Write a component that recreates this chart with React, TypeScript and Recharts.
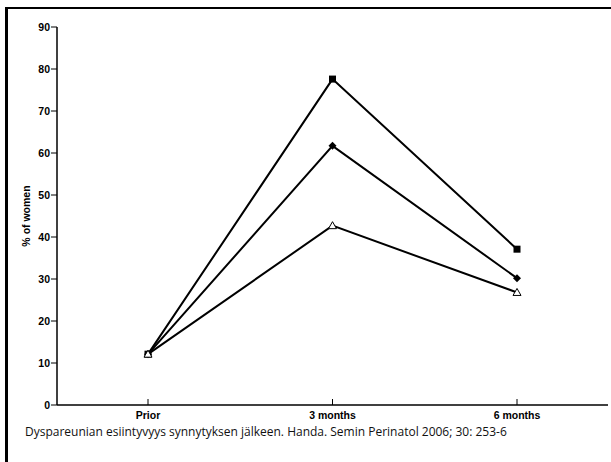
import React from 'react';
import { LineChart, Line, XAxis, YAxis } from 'recharts';

const categories = ['Prior', '3 months', '6 months'];
const seriesSquare = [12.1, 77.6, 37.1];
const seriesDiamond = [12.1, 61.7, 30.2];
const seriesTriangle = [12.1, 42.7, 26.8];
const yTicks = [0, 10, 20, 30, 40, 50, 60, 70, 80, 90];
const caption = 'Dyspareunian esiintyvyys synnytyksen jälkeen. Handa. Semin Perinatol 2006; 30: 253-6';
const yLabel = '% of women';

const data = categories.map((c, i) => ({
  name: c,
  sq: seriesSquare[i],
  di: seriesDiamond[i],
  tr: seriesTriangle[i],
}));

const FONT = 'Liberation Sans';

const SquareDot = (props: any) => {
  const { cx, cy, index } = props;
  return <rect key={`sq-${index}`} x={cx - 3.5} y={cy - 3.5} width={7} height={7} fill="#000" />;
};
const DiamondDot = (props: any) => {
  const { cx, cy, index } = props;
  return (
    <polygon
      key={`di-${index}`}
      points={`${cx},${cy - 4} ${cx + 4},${cy} ${cx},${cy + 4} ${cx - 4},${cy}`}
      fill="#000"
    />
  );
};
const TriangleDot = (props: any) => {
  const { cx, cy, index } = props;
  return (
    <polygon
      key={`tr-${index}`}
      points={`${cx},${cy - 4} ${cx + 4},${cy + 3} ${cx - 4},${cy + 3}`}
      fill="#fff"
      stroke="#000"
      strokeWidth={1}
    />
  );
};

const XTick = (props: any) => {
  const { x, y, payload } = props;
  const axisY = y - 7;
  return (
    <g>
      <line x1={x} x2={x} y1={axisY - 6} y2={axisY} stroke="#000" strokeWidth={1} />
      <text
        x={x}
        y={y}
        dy="0.71em"
        textAnchor="middle"
        style={{ fontFamily: FONT, fontWeight: 700, fontSize: '10.5px' }}
        fill="#000"
      >
        {payload.value}
      </text>
    </g>
  );
};

const YTick = (props: any) => {
  const { x, y, payload } = props;
  return (
    <text
      x={x}
      y={y}
      dy="0.355em"
      textAnchor="end"
      style={{ fontFamily: FONT, fontWeight: 700, fontSize: '10.5px' }}
      fill="#000"
    >
      {payload.value}
    </text>
  );
};

const YLabel = (props: any) => {
  const { viewBox } = props;
  const x = viewBox.x - 1;
  const y = viewBox.y + viewBox.height / 2;
  return (
    <text
      x={x}
      y={y}
      transform={`rotate(-90, ${x}, ${y})`}
      textAnchor="middle"
      dominantBaseline="central"
      style={{ fontFamily: FONT, fontWeight: 700, fontSize: '10.5px' }}
      fill="#000"
    >
      {yLabel}
    </text>
  );
};

export default function App() {
  return (
    <div style={{ position: 'absolute', left: 0, top: 0, width: 611, height: 462, background: '#fff', overflow: 'hidden' }}>
      <div
        style={{
          position: 'absolute',
          left: 5,
          top: 7,
          width: 606,
          height: 455,
          borderLeft: '3px solid #000',
          borderTop: '2px solid #000',
          boxSizing: 'border-box',
        }}
      />
      <div style={{ position: 'absolute', left: 0, top: 0 }}>
        <LineChart width={611} height={462} data={data} margin={{ top: 27, right: 3, bottom: 27, left: 27 }}>
          <XAxis
            dataKey="name"
            type="category"
            padding={{ left: 91, right: 91 }}
            axisLine={{ stroke: '#000', strokeWidth: 1.5 }}
            tickLine={false}
            tickSize={0}
            tickMargin={7}
            height={30}
            tick={<XTick />}
            interval={0}
          />
          <YAxis
            type="number"
            domain={[0, 90]}
            ticks={yTicks}
            interval={0}
            width={30}
            axisLine={{ stroke: '#000', strokeWidth: 1.5 }}
            tickLine={{ stroke: '#000', strokeWidth: 1 }}
            tickSize={6}
            tickMargin={1}
            tick={<YTick />}
            label={<YLabel />}
          />
          <Line dataKey="sq" stroke="#000" strokeWidth={2} dot={SquareDot} isAnimationActive={false} />
          <Line dataKey="di" stroke="#000" strokeWidth={2} dot={DiamondDot} isAnimationActive={false} />
          <Line dataKey="tr" stroke="#000" strokeWidth={2} dot={TriangleDot} isAnimationActive={false} />
        </LineChart>
      </div>
      <div
        style={{
          position: 'absolute',
          left: 25,
          top: 423,
          fontFamily: '"Open Sans", sans-serif',
          fontSize: 12,
          lineHeight: '17px',
          color: '#111',
          whiteSpace: 'nowrap',
        }}
      >
        {caption}
      </div>
    </div>
  );
}
